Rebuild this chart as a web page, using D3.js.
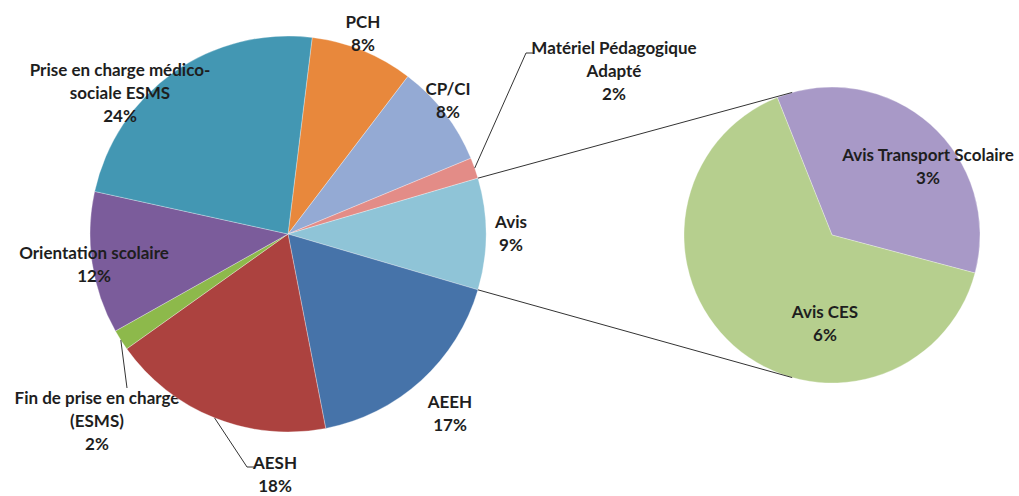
<!DOCTYPE html>
<html>
<head>
<meta charset="utf-8">
<script src="https://cdn.jsdelivr.net/npm/d3@7"></script>
<style>
  body { margin: 0; background: #fff; }
  text { font-family: Lato, "Open Sans", sans-serif; font-weight: 700; font-size: 17px; fill: #1e1e1e; }
</style>
</head>
<body>
<svg class="chart" width="1019" height="496"></svg>
<script>
// main pie, clockwise from the top
var categories = ["PCH", "CP/CI", "Matériel Pédagogique\nAdapté", "Avis", "AEEH", "AESH",
                  "Fin de prise en charge\n(ESMS)", "Orientation scolaire", "Prise en charge médico-\nsociale ESMS"];
var values = [8.4, 8.4, 1.7, 9.1, 17.4, 18.2, 1.7, 11.6, 23.5];
var colors = ["#E8883C", "#94AAD4", "#E38C87", "#8FC4D7", "#4673A9", "#AC423F", "#8DB94B", "#7B5C9B", "#4397B3"];

// secondary pie (breakdown of "Avis")
var subCategories = ["Avis Transport  Scolaire", "Avis CES"];
var subValues = [3.2, 5.9];
var subColors = ["#A899C7", "#B6CF8E"];

var splitName = "Avis";

// layout
var svg = d3.select(".chart");
var main = {cx: 288, cy: 234, r: 198};
var sub = {cx: 832, cy: 235, r: 148, start: -21.7, link: 15.6};
var lineH = 23;
var labelPos = {
  "PCH": [363, 28],
  "CP/CI": [448, 95],
  "Matériel Pédagogique\nAdapté": [614, 54],
  "Avis": [511, 228],
  "AEEH": [450, 408],
  "AESH": [275, 469],
  "Fin de prise en charge\n(ESMS)": [97, 404],
  "Orientation scolaire": [94, 259],
  "Prise en charge médico-\nsociale ESMS": [120, 76],
  "Avis Transport  Scolaire": [928, 161],
  "Avis CES": [825, 318]
};
var leaders = {
  "Matériel Pédagogique\nAdapté": [[526, 53], [533, 53]],
  "AESH": [[247, 467], [254, 467]],
  "Fin de prise en charge\n(ESMS)": [[127, 388]]
};

var rad = Math.PI / 180;
var total = d3.sum(values);
var splitIdx = categories.indexOf(splitName);
// place the split slice centred on the right side
var before = d3.sum(values.slice(0, splitIdx));
var start = Math.PI / 2 - (before + values[splitIdx] / 2) / total * 2 * Math.PI;

var pie = d3.pie().sort(null).value(function(d) { return d.value; })
    .startAngle(start).endAngle(start + 2 * Math.PI);
var arc = d3.arc().innerRadius(0).outerRadius(main.r);

var data = categories.map(function(c, i) { return {name: c, value: values[i], color: colors[i]}; });
var arcs = pie(data);

function pt(cx, cy, r, a) { return [cx + r * Math.sin(a), cy - r * Math.cos(a)]; }

function label(g, name, pctText) {
  var p = labelPos[name];
  var lines = name.split("\n").concat([pctText]);
  var t = g.append("text").attr("text-anchor", "middle");
  lines.forEach(function(l, i) {
    t.append("tspan").attr("x", p[0]).attr("y", p[1] + i * lineH).text(l);
  });
}

function leader(g, name, a) {
  if (!leaders[name]) return;
  var pts = [pt(main.cx, main.cy, main.r, a)].concat(leaders[name]);
  g.append("path")
      .attr("d", d3.line()(pts))
      .attr("fill", "none")
      .attr("stroke", "#333")
      .attr("stroke-width", 1);
}

var fmt = function(v) { return Math.round(v) + "%"; };

// label hidden partly behind the pie
var back = svg.append("g");
var g1 = svg.append("g").attr("transform", "translate(" + main.cx + "," + main.cy + ")");
g1.selectAll("path")
  .data(arcs)
  .enter().append("path")
    .attr("d", arc)
    .attr("fill", function(d) { return d.data.color; })
    .attr("stroke", "#fff")
    .attr("stroke-opacity", 0.5)
    .attr("stroke-width", 0.6);

var front = svg.append("g");
arcs.forEach(function(d) {
  var g = d.data.name.indexOf("Fin de") === 0 ? back : front;
  label(g, d.data.name, fmt(d.data.value / total * 100));
  leader(front, d.data.name, (d.startAngle + d.endAngle) / 2);
});

// secondary pie
var s0 = sub.start * rad;
var pie2 = d3.pie().sort(null).value(function(d) { return d.value; })
    .startAngle(s0).endAngle(s0 + 2 * Math.PI);
var arc2 = d3.arc().innerRadius(0).outerRadius(sub.r);
var data2 = subCategories.map(function(c, i) { return {name: c, value: subValues[i], color: subColors[i]}; });
var g2 = svg.append("g").attr("transform", "translate(" + sub.cx + "," + sub.cy + ")");
g2.selectAll("path")
  .data(pie2(data2))
  .enter().append("path")
    .attr("d", arc2)
    .attr("fill", function(d) { return d.data.color; })
    .attr("stroke", "#fff")
    .attr("stroke-opacity", 0.5)
    .attr("stroke-width", 0.6);
data2.forEach(function(d) { label(svg, d.name, fmt(d.value / total * 100)); });

// connector lines between the split slice and the secondary pie
var sp = arcs[splitIdx];
var links = [
  [pt(main.cx, main.cy, main.r, sp.startAngle), pt(sub.cx, sub.cy, sub.r, -sub.link * rad)],
  [pt(main.cx, main.cy, main.r, sp.endAngle), pt(sub.cx, sub.cy, sub.r, Math.PI + sub.link * rad)]
];
svg.selectAll(".link")
  .data(links)
  .enter().append("path")
    .attr("class", "link")
    .attr("d", function(d) { return d3.line()(d); })
    .attr("stroke", "#333")
    .attr("stroke-width", 1);
</script>
</body>
</html>
